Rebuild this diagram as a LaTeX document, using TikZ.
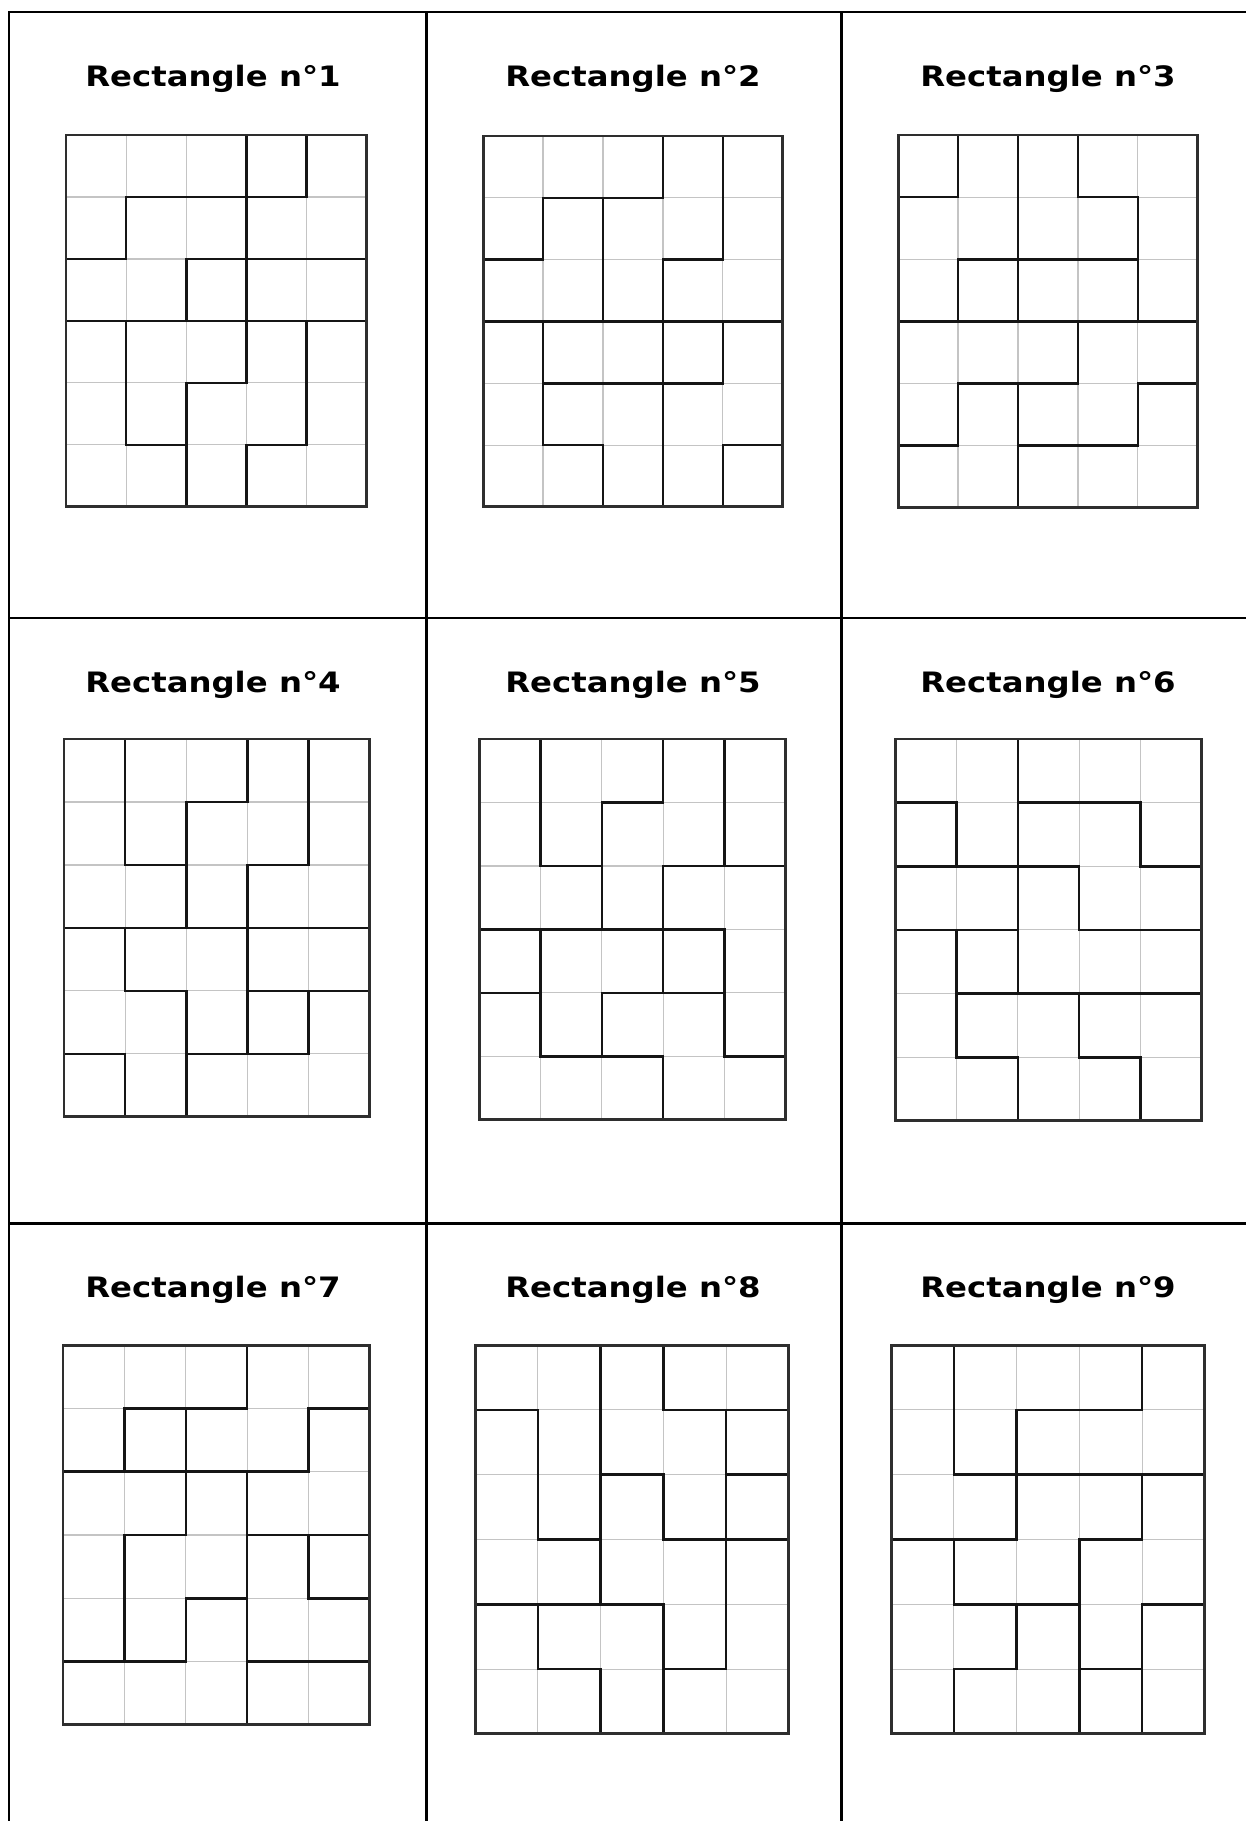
\documentclass[tikz,border=0pt]{standalone}
\usepackage{fontspec}
\newfontfamily\titlefont[FakeStretch=1.15]{DejaVu Sans}
\usetikzlibrary{positioning}
\definecolor{tableink}{HTML}{000000}
\definecolor{gridlight}{HTML}{C4C4C4}
\definecolor{gridink}{HTML}{151515}
\definecolor{gridframe}{HTML}{2E2E2E}
\tikzset{
  tableline/.style={draw=tableink, line width=1.7pt, line cap=rect},
  celltitle/.style={font=\titlefont\bfseries\fontsize{16}{19}\selectfont,
    text=black, anchor=base, inner sep=0pt},
  cellline/.style={draw=gridlight, line width=.6pt},
  tileline/.style={draw=gridink, line width=1.45pt, line cap=rect},
  frameline/.style={draw=gridframe, line width=1.7pt}
}
% #1 top left corner, #2 cell width, #3 cell height, #4 tile edges
\newcommand{\tilegrid}[4]{%
  \begin{scope}[shift={(#1)}, x=#2, y=#3]
    \foreach \c in {1,...,4} {\draw[cellline] (\c,0) -- (\c,6);}
    \foreach \r in {1,...,5} {\draw[cellline] (0,\r) -- (5,\r);}
    \draw[tileline] #4;
    \draw[frameline] (0,0) rectangle (5,6);
  \end{scope}}

\begin{document}
\begin{tikzpicture}[x=0.02cm,y=-0.02cm]
  \useasboundingbox (0,0) rectangle (1246,1821);
  % table
  \foreach \y in {12,618,1223} {
    \draw[tableline] (9,\y) -- (1250,\y);
  }
  \foreach \x in {9,426,841} {
    \draw[tableline] (\x,12) -- (\x,1830);
  }

  \foreach \n/\x/\y in {1/213/87, 2/633/87, 3/1048/87,
                         4/213/692, 5/633/692, 6/1048/692,
                         7/213/1297, 8/633/1297, 9/1048/1297} {
    \node[celltitle] (title\n) at (\x,\y) {Rectangle n°\n};
  }

  % rectangle 1
  \tilegrid{66,135}{1.204cm}{-1.24cm}{(3,0)--(3,4) (3,5)--(3,6) (4,0)--(4,1)
    (4,3)--(4,5) (1,1)--(1,2) (1,3)--(1,5) (2,2)--(2,3) (2,4)--(2,6)
    (1,1)--(4,1) (0,2)--(1,2) (2,2)--(5,2) (0,3)--(5,3) (2,4)--(3,4)
    (1,5)--(2,5) (3,5)--(4,5)}
  % rectangle 2
  \tilegrid{483,136}{1.2cm}{-1.2367cm}{(1,1)--(1,2) (1,3)--(1,5) (2,1)--(2,3)
    (2,5)--(2,6) (3,0)--(3,1) (3,2)--(3,6) (4,0)--(4,2) (4,3)--(4,4)
    (4,5)--(4,6) (1,1)--(3,1) (0,2)--(1,2) (3,2)--(4,2) (0,3)--(5,3)
    (1,4)--(4,4) (1,5)--(2,5) (4,5)--(5,5)}
  % rectangle 3
  \tilegrid{898,135}{1.2cm}{-1.2433cm}{(1,0)--(1,1) (1,2)--(1,3) (1,4)--(1,5)
    (2,0)--(2,3) (2,4)--(2,6) (3,0)--(3,1) (3,3)--(3,4) (4,1)--(4,3)
    (4,4)--(4,5) (0,1)--(1,1) (3,1)--(4,1) (1,2)--(4,2) (0,3)--(5,3)
    (1,4)--(3,4) (4,4)--(5,4) (0,5)--(1,5) (2,5)--(4,5)}
  % rectangle 4
  \tilegrid{64,739}{1.224cm}{-1.26cm}{(1,0)--(1,2) (1,3)--(1,4) (1,5)--(1,6)
    (2,1)--(2,3) (2,4)--(2,6) (3,0)--(3,1) (3,2)--(3,5) (4,0)--(4,2)
    (4,4)--(4,5) (2,1)--(3,1) (1,2)--(2,2) (3,2)--(4,2) (0,3)--(5,3)
    (1,4)--(2,4) (3,4)--(5,4) (0,5)--(1,5) (2,5)--(4,5)}
  % rectangle 5
  \tilegrid{479,739}{1.228cm}{-1.27cm}{(1,0)--(1,2) (1,3)--(1,5) (2,1)--(2,3)
    (2,4)--(2,5) (3,0)--(3,1) (3,2)--(3,4) (3,5)--(3,6) (4,0)--(4,2)
    (4,3)--(4,5) (2,1)--(3,1) (1,2)--(2,2) (3,2)--(5,2) (0,3)--(4,3)
    (0,4)--(1,4) (2,4)--(4,4) (1,5)--(3,5) (4,5)--(5,5)}
  % rectangle 6
  \tilegrid{895,739}{1.228cm}{-1.2733cm}{(1,1)--(1,2) (1,3)--(1,5) (2,0)--(2,4)
    (2,5)--(2,6) (3,2)--(3,3) (3,4)--(3,5) (4,1)--(4,2) (4,5)--(4,6)
    (0,1)--(1,1) (2,1)--(4,1) (0,2)--(3,2) (4,2)--(5,2) (0,3)--(2,3)
    (3,3)--(5,3) (1,4)--(5,4) (1,5)--(2,5) (3,5)--(4,5)}
  % rectangle 7
  \tilegrid{63,1345}{1.228cm}{-1.2667cm}{(1,1)--(1,2) (1,3)--(1,5) (2,1)--(2,3)
    (2,4)--(2,5) (3,0)--(3,1) (3,2)--(3,6) (4,1)--(4,2) (4,3)--(4,4)
    (1,1)--(3,1) (4,1)--(5,1) (0,2)--(4,2) (1,3)--(2,3) (3,3)--(5,3)
    (2,4)--(3,4) (4,4)--(5,4) (0,5)--(2,5) (3,5)--(5,5)}
  % rectangle 8
  \tilegrid{475,1345}{1.256cm}{-1.2967cm}{(1,1)--(1,3) (1,4)--(1,5) (2,0)--(2,4)
    (2,5)--(2,6) (3,0)--(3,1) (3,2)--(3,3) (3,4)--(3,6) (4,1)--(4,5)
    (0,1)--(1,1) (3,1)--(5,1) (2,2)--(3,2) (4,2)--(5,2) (1,3)--(2,3)
    (3,3)--(5,3) (0,4)--(3,4) (1,5)--(2,5) (3,5)--(4,5)}
  % rectangle 9
  \tilegrid{891,1345}{1.256cm}{-1.2967cm}{(1,0)--(1,2) (1,3)--(1,4) (1,5)--(1,6)
    (2,1)--(2,3) (2,4)--(2,5) (3,3)--(3,6) (4,0)--(4,1) (4,2)--(4,3)
    (4,4)--(4,6) (2,1)--(4,1) (1,2)--(5,2) (0,3)--(2,3) (3,3)--(4,3)
    (1,4)--(3,4) (4,4)--(5,4) (1,5)--(2,5) (3,5)--(4,5)}
\end{tikzpicture}
\end{document}
